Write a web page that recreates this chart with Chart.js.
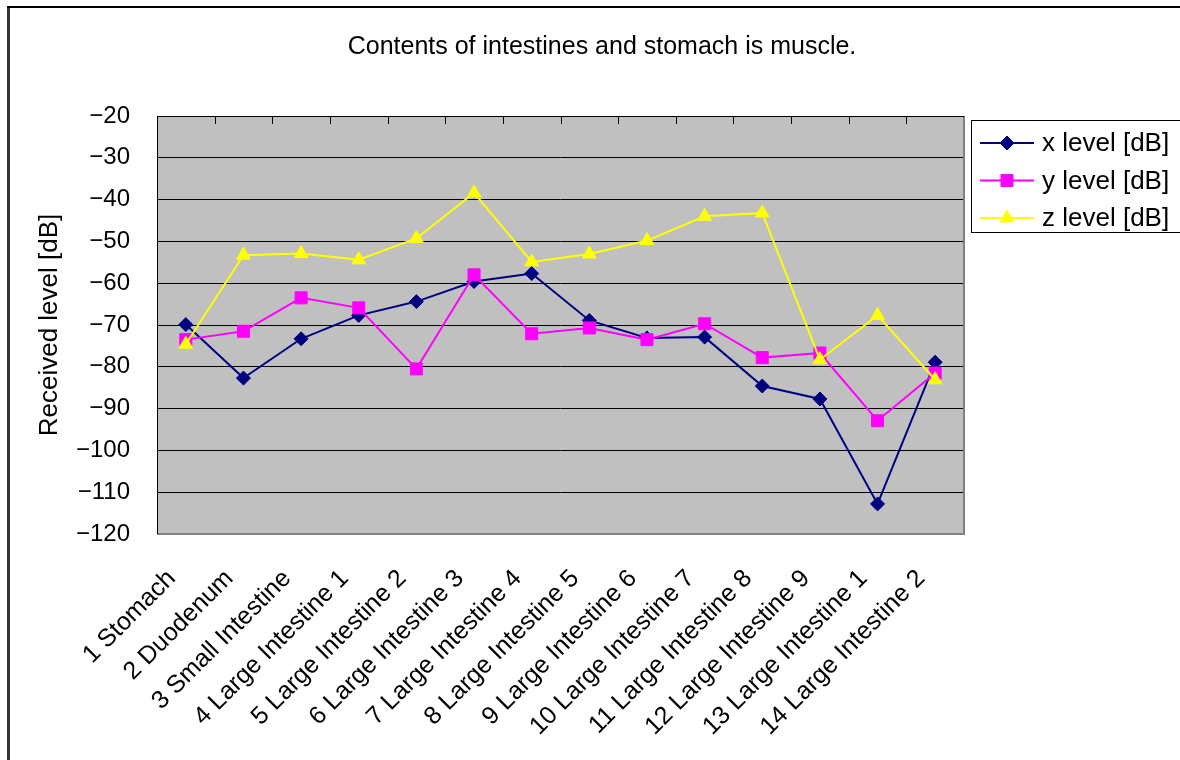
<!DOCTYPE html>
<html>
	<head>
		<meta charset="utf-8">
		<title>Contents of intestines and stomach is muscle.</title>
		<script src="https://cdn.jsdelivr.net/npm/chart.js"></script>
		<style>
			body { margin: 0; background: #fff; }
			canvas { display: block; }
		</style>
	</head>
	<body>
		<canvas id="levels" width="1180" height="760"></canvas>
		<script type="text/javascript">
			// measurement points along the digestive tract
			let organs = ['1 Stomach', '2 Duodenum', '3 Small Intestine', '4 Large Intestine 1', '5 Large Intestine 2',
				'6 Large Intestine 3', '7 Large Intestine 4', '8 Large Intestine 5', '9 Large Intestine 6', '10 Large Intestine 7',
				'11 Large Intestine 8', '12 Large Intestine 9', '13 Large Intestine 1', '14 Large Intestine 2'];
			// received level in dB per antenna axis
			let xLevel = [-69.9, -82.7, -73.3, -67.7, -64.4, -59.6, -57.7, -68.9, -73.1, -72.9, -84.6, -87.7, -112.8, -78.9];
			let yLevel = [-73.5, -71.5, -63.5, -65.9, -80.5, -58.0, -72.1, -70.7, -73.5, -69.7, -77.8, -76.7, -92.9, -81.5];
			let zLevel = [-74.6, -53.3, -52.9, -54.4, -49.3, -38.4, -54.9, -53.0, -49.8, -44.0, -43.2, -78.3, -67.7, -83.1];
			let seriesNames = ['x level [dB]', 'y level [dB]', 'z level [dB]'];
			let chartTitle = 'Contents of intestines and stomach is muscle.';

			let fontFamily = "'Liberation Sans', Arial, sans-serif";
			Chart.defaults.font.family = fontFamily;
			Chart.defaults.color = '#000';

			// grey plot area, frame, top tick marks, page border, title and legend box
			let frame = {
				id: 'frame',
				beforeDraw(chart) {
					let { ctx, chartArea: a } = chart;
					ctx.save();
					ctx.fillStyle = '#c0c0c0';
					ctx.fillRect(a.left, a.top, a.right - a.left, a.bottom - a.top);
					ctx.restore();
				},
				beforeDatasetsDraw(chart) {
					let { ctx, chartArea: a, scales } = chart;
					ctx.save();
					ctx.strokeStyle = '#808080';
					ctx.lineWidth = 2;
					ctx.beginPath();
					ctx.moveTo(a.right, a.top); ctx.lineTo(a.right, a.bottom); ctx.lineTo(a.left, a.bottom);
					ctx.stroke();
					ctx.strokeStyle = '#000';
					ctx.lineWidth = 1;
					ctx.beginPath();
					ctx.moveTo(a.left + 0.5, a.bottom); ctx.lineTo(a.left + 0.5, a.top + 0.5); ctx.lineTo(a.right, a.top + 0.5);
					for (let i = 0; i < organs.length - 1; i++) {
						let x = Math.round(scales.x.getPixelForValue(i + 0.5)) + 0.5;
						ctx.moveTo(x, a.top); ctx.lineTo(x, a.top + 8);
					}
					ctx.stroke();
					ctx.restore();
				},
				afterDraw(chart) {
					let ctx = chart.ctx;
					ctx.save();
					ctx.strokeStyle = '#333';
					ctx.lineWidth = 3;
					ctx.beginPath(); ctx.moveTo(8.5, 6); ctx.lineTo(8.5, 760); ctx.stroke();
					ctx.strokeStyle = '#000';
					ctx.lineWidth = 2;
					ctx.beginPath(); ctx.moveTo(7, 7); ctx.lineTo(1180, 7); ctx.stroke();

					ctx.fillStyle = '#000';
					ctx.font = '25px ' + fontFamily;
					ctx.textAlign = 'center';
					ctx.textBaseline = 'middle';
					ctx.fillText(chartTitle, 602, 47);

					ctx.lineWidth = 1;
					ctx.strokeStyle = '#000';
					ctx.strokeRect(971.5, 120.5, 215, 112);
					ctx.font = '26px ' + fontFamily;
					ctx.textAlign = 'left';
					chart.data.datasets.forEach((ds, i) => {
						let y = 143 + i * 37.5;
						ctx.strokeStyle = ds.borderColor;
						ctx.lineWidth = 2;
						ctx.beginPath(); ctx.moveTo(980, y); ctx.lineTo(1034, y); ctx.stroke();
						ctx.fillStyle = ds.pointBackgroundColor;
						ctx.strokeStyle = ds.pointBorderColor;
						ctx.lineWidth = 1;
						Chart.helpers.drawPoint(ctx, { pointStyle: ds.pointStyle, radius: ds.pointRadius, rotation: 0, borderWidth: 1 }, 1007, y);
						ctx.fillStyle = '#000';
						ctx.fillText(ds.label, 1042, y + 1);
					});
					ctx.restore();
				}
			};

			new Chart(document.getElementById('levels'), {
				type: 'line',
				data: {
					labels: organs,
					datasets: [
						{ label: seriesNames[0], data: xLevel, order: 3, borderColor: '#000080', borderWidth: 2, pointStyle: 'rectRot', pointRadius: 7, pointBackgroundColor: '#000080', pointBorderColor: '#000080', pointBorderWidth: 1 },
						{ label: seriesNames[1], data: yLevel, order: 2, borderColor: '#ff00ff', borderWidth: 2, pointStyle: 'rect', pointRadius: 8.5, pointBackgroundColor: '#ff00ff', pointBorderColor: '#ff00ff', pointBorderWidth: 1 },
						{ label: seriesNames[2], data: zLevel, order: 1, borderColor: '#ffff00', borderWidth: 2, pointStyle: 'triangle', pointRadius: 8, pointBackgroundColor: '#ffff00', pointBorderColor: '#ffff00', pointBorderWidth: 1 }
					]
				},
				options: {
					responsive: false,
					animation: false,
					devicePixelRatio: 1,
					layout: { padding: { left: 30, right: 216, top: 116, bottom: 0 } },
					plugins: {
						legend: { display: false },
						tooltip: { enabled: false },
						title: { display: false }
					},
					scales: {
						x: {
							offset: true,
							grid: { display: false, drawTicks: false },
							border: { display: false },
							ticks: { autoSkip: false, maxRotation: 45, minRotation: 45, padding: 30, labelOffset: -14, font: { size: 25 }, color: '#000' },
							afterFit(scale) { scale.height = 226; }
						},
						y: {
							min: -120,
							max: -20,
							grid: { color: '#000', lineWidth: 1, drawTicks: false },
							border: { display: false },
							ticks: { stepSize: 10, padding: 27, font: { size: 24 }, color: '#000', callback: v => String(v).replace('-', '\u2212') },
							title: { display: true, text: 'Received level [dB]', font: { size: 26 }, color: '#000' },
							afterFit(scale) { scale.width = 127; }
						}
					}
				},
				plugins: [frame]
			});
		</script>
	</body>
</html>
